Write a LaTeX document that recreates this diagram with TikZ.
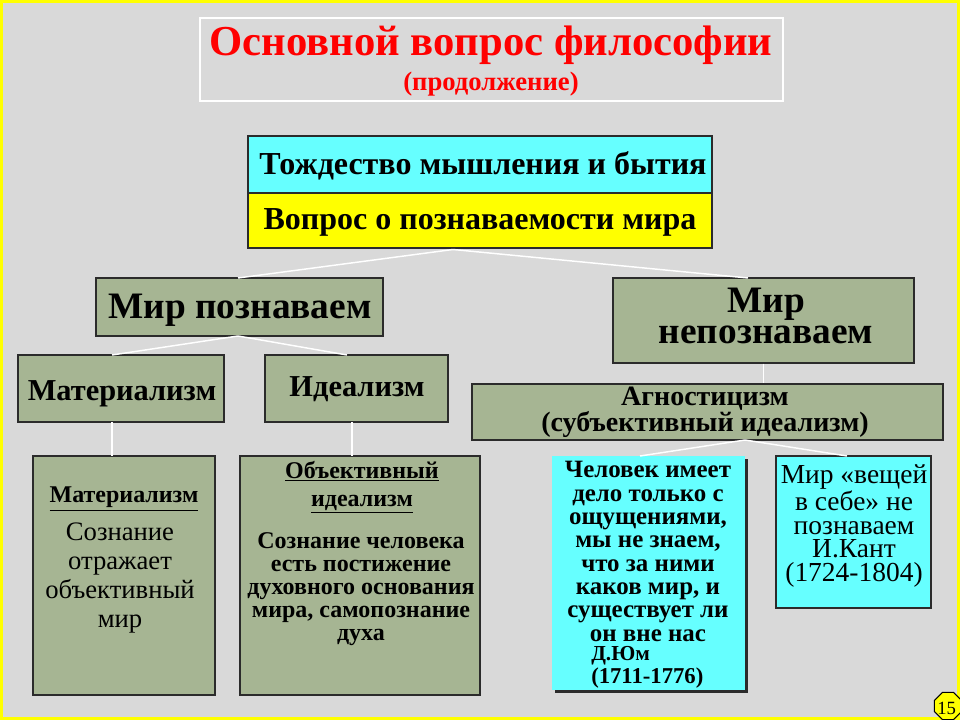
\documentclass[tikz,border=0pt]{standalone}
\usepackage{fontspec}
\IfFontExistsTF{LiberationSerif-Regular.ttf}
  {\setmainfont{LiberationSerif}[Extension=.ttf,UprightFont=*-Regular,BoldFont=*-Bold,ItalicFont=*-Italic,BoldItalicFont=*-BoldItalic]}
  {\setmainfont{Liberation Serif}}
\usetikzlibrary{shapes.geometric,calc}
\definecolor{bg}{HTML}{D9D9D9}
\definecolor{sage}{HTML}{A6B593}
\definecolor{cyanbox}{HTML}{66FFFF}
\definecolor{ylw}{HTML}{FFFF00}
\definecolor{boxline}{HTML}{2B2B2B}
\definecolor{titlered}{HTML}{FF0000}
\newcommand{\fs}[2]{\fontsize{#1}{#2}\selectfont}
\begin{document}
\begin{tikzpicture}[x=0.75pt,y=-0.75pt,
  box/.style={draw=boxline,line width=1.1pt,inner sep=0pt},
  gbox/.style={box,fill=sage},
  conn/.style={draw=white,line width=1.1pt},
  txt/.style={inner sep=0pt,align=center,font=\bfseries},
  rtxt/.style={inner sep=0pt,align=center}
]
\useasboundingbox (0,0) rectangle (960,720);
\fill[bg] (0,0) rectangle (960,720);
\draw[ylw,line width=2.2pt] (1.5,1.5) rectangle (958.5,718.5);

% title
\node[draw=white,line width=0.9pt,minimum width=437.25pt,minimum height=62.25pt,inner sep=0pt] (titlebox) at (491.5,59.5) {};
\node[txt,text=titlered,font=\bfseries\fs{32}{34}] (title) at (491,45) {Основной вопрос философии};
\node[txt,text=titlered,font=\bfseries\fs{20}{22}] (subtitle) at (491,84) {(продолжение)};

% top boxes
\node[box,fill=cyanbox,minimum width=348pt,minimum height=42.75pt] (ident) at (480,164.5) {};
\node[box,fill=ylw,minimum width=348pt,minimum height=41.25pt] (quest) at (480,220.5) {};
\node[txt,font=\bfseries\fs{24}{26}] (identtxt) at (483,166) {Тождество мышления и бытия};
\node[txt,font=\bfseries\fs{24}{26}] (questtxt) at (480,222) {Вопрос о познаваемости мира};

% second level
\node[gbox,minimum width=215.25pt,minimum height=43.5pt] (mp) at (239.5,307) {};
\node[txt,font=\bfseries\fs{28}{30}] (mptxt) at (240,310) {Мир познаваем};
\node[gbox,minimum width=225.75pt,minimum height=63.75pt] (mn) at (763.5,320.5) {};
\node[txt,font=\bfseries\fs{28}{23.5}] (mntxt) at (766,316) {Мир\\непознаваем};

% third level
\node[gbox,minimum width=154.5pt,minimum height=50.25pt] (mat) at (121,388.5) {};
\node[txt,font=\bfseries\fs{22.8}{25}] (mattxt) at (122,394) {Материализм};
\node[gbox,minimum width=137.25pt,minimum height=50.25pt] (ide) at (356.5,388.5) {};
\node[txt,font=\bfseries\fs{22.8}{25}] (idetxt) at (357,389) {Идеализм};
\node[gbox,minimum width=353.25pt,minimum height=42pt] (agn) at (707.5,412) {};
\node[txt,font=\bfseries\fs{21}{19.5}] (agntxt) at (705,412.5) {Агностицизм\\(субъективный идеализм)};

% bottom boxes
\node[gbox,minimum width=136.5pt,minimum height=179.25pt] (matd) at (124,575.5) {};
\node[txt,font=\bfseries\fs{18}{20}] (matdh) at (124,499) {\underline{Материализм}};
\node[rtxt,font=\fs{20}{21.7}] (matdt) at (120,578) {Сознание\\отражает\\объективный\\мир};

\node[gbox,minimum width=180pt,minimum height=179.25pt] (ided) at (360,575.5) {};
\node[txt,font=\bfseries\fs{18}{21}] (idedh) at (362,487) {\underline{Объективный}\\\underline{идеализм}};
\node[txt,font=\bfseries\fs{18}{17.3}] (idedt) at (361,589) {Сознание человека\\есть постижение\\духовного основания\\мира, самопознание\\духа};

\fill[boxline] (555,459) rectangle (748,693);
\node[fill=cyanbox,minimum width=144.75pt,minimum height=175.5pt,inner sep=0pt] (hume) at (648.5,573) {};
\node[txt,font=\bfseries\fs{18.7}{17.5}] (humet) at (648,551.5) {Человек имеет\\дело только с\\ощущениями,\\мы не знаем,\\что за ними\\каков мир, и\\существует ли\\он вне нас};
\node[txt,font=\bfseries\fs{16}{17},anchor=west] (humen) at (591,656) {Д.Юм};
\node[txt,font=\bfseries\fs{17}{19},anchor=west] (humed) at (591,678) {(1711-1776)};

\node[box,fill=cyanbox,minimum width=116.25pt,minimum height=114pt] (kant) at (853.5,532) {};
\node[rtxt,font=\fs{20.6}{17.6}] (kantt) at (854,526) {Мир «вещей\\в себе» не\\познаваем\\И.Кант\\(1724-1804)};

% connectors
\coordinate (qj) at (453,249.5);
\coordinate (mpt) at (238,278);
\coordinate (mnt) at (748,278);
\draw[conn] (mpt) -- (qj) -- (mnt);
\coordinate (mpb) at (238,336);
\coordinate (matt) at (112,355);
\coordinate (idet) at (347,355);
\draw[conn] (matt) -- (mpb) -- (idet);
\draw[conn] (mn.south) -- (agn.north -| mn.south);
\coordinate (matb) at (112,422);
\coordinate (matdt0) at (112,456);
\draw[conn] (matb) -- (matdt0);
\coordinate (ideb) at (352,422);
\coordinate (idedt0) at (352,456);
\draw[conn] (ideb) -- (idedt0);
\coordinate (agb) at (745,440);
\coordinate (humt) at (640,456);
\coordinate (kantt0) at (847,456);
\draw[conn] (humt) -- (agb) -- (kantt0);

% page number
\node[regular polygon,regular polygon sides=8,draw=black,line width=0.8pt,fill=ylw,minimum size=22pt,inner sep=0pt] (pg) at (948,706) {};
\node[rtxt,font=\fs{14}{16},anchor=west] (pgn) at (937,708) {15};
\end{tikzpicture}
\end{document}
